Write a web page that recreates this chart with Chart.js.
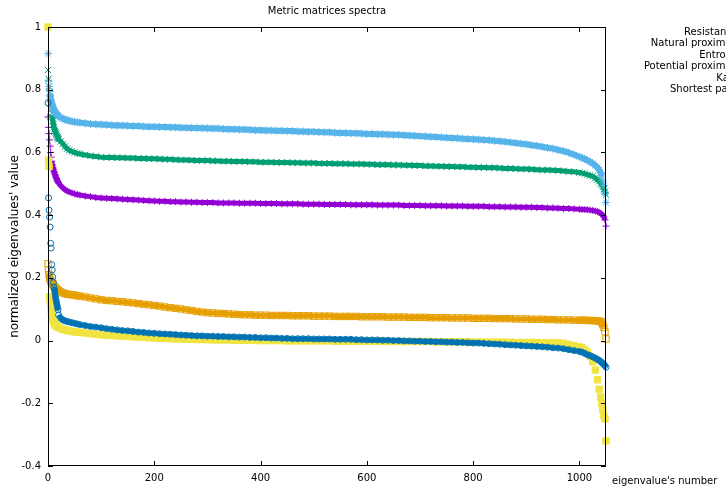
<!DOCTYPE html>
<html>
<head>
<meta charset="utf-8">
<title>Metric matrices spectra</title>
<script src="https://cdn.jsdelivr.net/npm/chart.js@4/dist/chart.umd.min.js"></script>
<style>
  html, body { margin: 0; padding: 0; background: #fff; overflow: hidden; }
  canvas { display: block; }
</style>
</head>
<body>
<canvas id="spectra" width="726" height="491"></canvas>
<script>
// eigenvalue numbers that were sampled (dense at both ends where curves bend)
const idx = [
  0, 1, 2, 3, 4, 5, 6, 7, 8, 9, 10, 11, 12, 13, 14, 15, 16, 17, 18, 19,
  20, 24, 28, 32, 36, 40, 45, 50, 55, 60, 70, 80, 90, 100,
  110, 120, 130, 140, 150, 160, 170, 180, 190, 200,
  210, 220, 230, 240, 250, 260, 270, 280, 290, 300,
  310, 320, 330, 340, 350, 360, 370, 380, 390, 400,
  410, 420, 430, 440, 450, 460, 470, 480, 490, 500,
  510, 520, 530, 540, 550, 560, 570, 580, 590, 600,
  610, 620, 630, 640, 650, 660, 670, 680, 690, 700,
  710, 720, 730, 740, 750, 760, 770, 780, 790, 800,
  810, 820, 830, 840, 850, 860, 870, 880, 890, 900,
  910, 920, 930, 940, 950, 960, 970, 980, 990, 1000,
  1005, 1010, 1015, 1020, 1025, 1030, 1034, 1037, 1040, 1042, 1044, 1046, 1048, 1050
];

const resistance = [
  0.713, 0.68, 0.66, 0.64, 0.62, 0.60, 0.585, 0.572, 0.56, 0.552, 0.546, 0.54, 0.535, 0.53, 0.525, 0.52, 0.516, 0.512, 0.508, 0.505,
  0.502, 0.494, 0.487, 0.481, 0.477, 0.474, 0.471, 0.468, 0.466, 0.464, 0.461, 0.459, 0.456, 0.455,
  0.454, 0.453, 0.452, 0.451, 0.450, 0.449, 0.448, 0.447, 0.446, 0.445,
  0.444, 0.444, 0.443, 0.443, 0.442, 0.442, 0.441, 0.441, 0.440, 0.440,
  0.440, 0.439, 0.439, 0.439, 0.439, 0.438, 0.438, 0.438, 0.438, 0.437,
  0.437, 0.437, 0.437, 0.436, 0.436, 0.436, 0.436, 0.435, 0.435, 0.435,
  0.435, 0.434, 0.434, 0.434, 0.434, 0.434, 0.433, 0.433, 0.433, 0.433,
  0.433, 0.432, 0.432, 0.432, 0.432, 0.432, 0.431, 0.431, 0.431, 0.431,
  0.430, 0.430, 0.430, 0.430, 0.429, 0.429, 0.429, 0.429, 0.428, 0.428,
  0.428, 0.428, 0.427, 0.427, 0.427, 0.426, 0.426, 0.426, 0.425, 0.425,
  0.425, 0.424, 0.424, 0.423, 0.423, 0.422, 0.421, 0.421, 0.420, 0.419,
  0.418, 0.418, 0.417, 0.416, 0.415, 0.413, 0.411, 0.409, 0.406, 0.403, 0.399, 0.394, 0.385, 0.365
];

const naturalProximity = [
  0.863, 0.835, 0.81, 0.79, 0.77, 0.755, 0.74, 0.725, 0.712, 0.70, 0.69, 0.68, 0.673, 0.668, 0.664, 0.66, 0.656, 0.652, 0.648, 0.645,
  0.642, 0.635, 0.627, 0.619, 0.612, 0.607, 0.603, 0.600, 0.597, 0.595, 0.592, 0.589, 0.587, 0.585,
  0.584, 0.584, 0.583, 0.583, 0.582, 0.582, 0.581, 0.581, 0.580, 0.580,
  0.579, 0.578, 0.578, 0.577, 0.576, 0.576, 0.575, 0.574, 0.574, 0.574,
  0.573, 0.573, 0.572, 0.572, 0.571, 0.571, 0.571, 0.570, 0.570, 0.569,
  0.569, 0.569, 0.568, 0.568, 0.568, 0.567, 0.567, 0.566, 0.566, 0.566,
  0.565, 0.565, 0.565, 0.564, 0.564, 0.564, 0.563, 0.563, 0.563, 0.562,
  0.562, 0.561, 0.561, 0.561, 0.560, 0.560, 0.559, 0.559, 0.558, 0.558,
  0.557, 0.557, 0.556, 0.556, 0.555, 0.555, 0.554, 0.554, 0.553, 0.553,
  0.552, 0.552, 0.551, 0.551, 0.550, 0.549, 0.549, 0.548, 0.547, 0.547,
  0.546, 0.545, 0.544, 0.544, 0.543, 0.542, 0.541, 0.539, 0.538, 0.536,
  0.534, 0.532, 0.529, 0.527, 0.524, 0.518, 0.513, 0.508, 0.502, 0.497, 0.49, 0.483, 0.475, 0.465
];

const entropy = [
  0.915, 0.83, 0.81, 0.795, 0.78, 0.77, 0.762, 0.755, 0.749, 0.744, 0.739, 0.735, 0.731, 0.728, 0.726, 0.724, 0.722, 0.72, 0.718, 0.716,
  0.715, 0.711, 0.708, 0.705, 0.703, 0.701, 0.699, 0.697, 0.696, 0.695, 0.693, 0.691, 0.690, 0.689,
  0.688, 0.687, 0.686, 0.686, 0.685, 0.684, 0.684, 0.683, 0.682, 0.682,
  0.681, 0.681, 0.680, 0.680, 0.679, 0.679, 0.678, 0.678, 0.677, 0.677,
  0.676, 0.676, 0.675, 0.674, 0.674, 0.673, 0.673, 0.672, 0.671, 0.671,
  0.670, 0.670, 0.669, 0.669, 0.668, 0.668, 0.667, 0.667, 0.666, 0.666,
  0.665, 0.664, 0.664, 0.663, 0.662, 0.662, 0.661, 0.661, 0.660, 0.659,
  0.659, 0.658, 0.658, 0.657, 0.656, 0.656, 0.655, 0.654, 0.653, 0.652,
  0.651, 0.650, 0.649, 0.648, 0.647, 0.646, 0.645, 0.644, 0.643, 0.642,
  0.641, 0.640, 0.639, 0.637, 0.636, 0.634, 0.632, 0.630, 0.628, 0.626,
  0.623, 0.621, 0.618, 0.615, 0.612, 0.608, 0.604, 0.599, 0.593, 0.586,
  0.583, 0.579, 0.575, 0.570, 0.565, 0.558, 0.552, 0.545, 0.535, 0.525, 0.51, 0.495, 0.47, 0.44
];

const potentialProximity = [
  0.245, 0.225, 0.21, 0.20, 0.195, 0.19, 0.187, 0.185, 0.183, 0.182, 0.178, 0.175, 0.172, 0.17, 0.168, 0.166, 0.164, 0.162, 0.161, 0.16,
  0.159, 0.155, 0.152, 0.150, 0.148, 0.147, 0.146, 0.145, 0.143, 0.142, 0.139, 0.136, 0.133, 0.130,
  0.128, 0.127, 0.125, 0.124, 0.122, 0.120, 0.118, 0.116, 0.114, 0.112,
  0.110, 0.107, 0.105, 0.103, 0.101, 0.098, 0.096, 0.093, 0.091, 0.089,
  0.088, 0.087, 0.086, 0.085, 0.084, 0.083, 0.082, 0.082, 0.081, 0.081,
  0.081, 0.080, 0.080, 0.080, 0.080, 0.079, 0.079, 0.079, 0.079, 0.078,
  0.078, 0.078, 0.078, 0.077, 0.077, 0.077, 0.077, 0.077, 0.076, 0.076,
  0.076, 0.076, 0.076, 0.075, 0.075, 0.075, 0.075, 0.074, 0.074, 0.074,
  0.074, 0.073, 0.073, 0.073, 0.073, 0.072, 0.072, 0.072, 0.072, 0.071,
  0.071, 0.071, 0.071, 0.070, 0.070, 0.070, 0.070, 0.069, 0.069, 0.069,
  0.068, 0.068, 0.068, 0.067, 0.067, 0.066, 0.066, 0.066, 0.065, 0.065,
  0.065, 0.065, 0.064, 0.064, 0.064, 0.063, 0.063, 0.062, 0.061, 0.058, 0.05, 0.042, 0.028, 0.005
];

const katz = [
  1.0, 0.575, 0.555, 0.14, 0.125, 0.11, 0.095, 0.083, 0.075, 0.068, 0.063, 0.058, 0.055, 0.052, 0.05, 0.048, 0.046, 0.045, 0.044, 0.043,
  0.042, 0.039, 0.036, 0.034, 0.032, 0.031, 0.029, 0.028, 0.027, 0.026, 0.024, 0.022, 0.020, 0.018,
  0.017, 0.016, 0.015, 0.014, 0.013, 0.012, 0.011, 0.010, 0.009, 0.008,
  0.007, 0.007, 0.006, 0.005, 0.005, 0.004, 0.004, 0.003, 0.003, 0.003,
  0.002, 0.002, 0.002, 0.002, 0.001, 0.001, 0.001, 0.001, 0.001, 0.000,
  0.000, 0.000, 0.000, 0.000, -0.001, -0.001, -0.001, -0.001, -0.001, -0.001,
  -0.001, -0.001, -0.001, -0.002, -0.002, -0.002, -0.002, -0.002, -0.002, -0.002,
  -0.002, -0.002, -0.003, -0.003, -0.003, -0.003, -0.003, -0.003, -0.003, -0.003,
  -0.003, -0.003, -0.004, -0.004, -0.004, -0.004, -0.004, -0.004, -0.004, -0.005,
  -0.005, -0.005, -0.005, -0.005, -0.005, -0.005, -0.005, -0.006, -0.006, -0.006,
  -0.006, -0.006, -0.007, -0.007, -0.007, -0.007, -0.009, -0.012, -0.016, -0.020,
  -0.023, -0.029, -0.037, -0.050, -0.068, -0.094, -0.125, -0.155, -0.18, -0.20, -0.22, -0.24, -0.25, -0.32
];

const shortestPath = [
  0.758, 0.455, 0.416, 0.394, 0.362, 0.31, 0.295, 0.242, 0.225, 0.203, 0.185, 0.171, 0.162, 0.152, 0.14, 0.13, 0.122, 0.113, 0.105, 0.098,
  0.082, 0.071, 0.066, 0.063, 0.061, 0.059, 0.057, 0.055, 0.053, 0.051, 0.048, 0.045, 0.043, 0.041,
  0.038, 0.036, 0.034, 0.032, 0.031, 0.029, 0.027, 0.026, 0.024, 0.023,
  0.022, 0.021, 0.020, 0.019, 0.018, 0.017, 0.016, 0.015, 0.015, 0.014,
  0.014, 0.013, 0.013, 0.012, 0.012, 0.011, 0.011, 0.010, 0.010, 0.009,
  0.009, 0.008, 0.008, 0.007, 0.007, 0.006, 0.006, 0.006, 0.006, 0.005,
  0.005, 0.005, 0.005, 0.004, 0.004, 0.004, 0.004, 0.003, 0.003, 0.002,
  0.002, 0.002, 0.001, 0.001, 0.000, 0.000, -0.001, -0.001, -0.002, -0.002,
  -0.003, -0.003, -0.004, -0.004, -0.005, -0.005, -0.006, -0.006, -0.007, -0.008,
  -0.008, -0.009, -0.010, -0.011, -0.012, -0.013, -0.014, -0.015, -0.016, -0.017,
  -0.018, -0.019, -0.020, -0.021, -0.023, -0.024, -0.026, -0.029, -0.032, -0.035,
  -0.037, -0.041, -0.045, -0.048, -0.052, -0.056, -0.060, -0.063, -0.067, -0.070, -0.073, -0.076, -0.080, -0.085
];

const seriesNames = ['Resistance', 'Natural proximity', 'Entropy', 'Potential proximity', 'Katz', 'Shortest path'];
const xTicks = [0, 200, 400, 600, 800, 1000];
const yTicks = [-0.4, -0.2, 0, 0.2, 0.4, 0.6, 0.8, 1];

const FONT = 'DejaVu Sans';

// the points sit so close together that they merge into a band; a thick
// stroke fills the band, except across big jumps where points stand alone
function bandGap(c) {
  return Math.abs(c.p1.y - c.p0.y) > 4 ? 'rgba(0,0,0,0)' : undefined;
}

function series(label, values, color, style, radius, filled, band, order) {
  return {
    label: label,
    data: idx.map((n, k) => ({ x: n, y: values[k] })),
    pointStyle: style,
    pointRadius: radius,
    pointBorderWidth: 1,
    pointBorderColor: color,
    pointBackgroundColor: filled ? color : 'rgba(0,0,0,0)',
    borderColor: color,
    borderWidth: band,
    borderJoinStyle: 'round',
    showLine: true,
    tension: 0,
    segment: { borderColor: bandGap },
    clip: false,
    order: order
  };
}

// gnuplot-like frame: closed border, inward ticks on all four sides, labels and key
const frame = {
  id: 'frame',
  afterDraw(chart) {
    const ctx = chart.ctx;
    const a = chart.chartArea;
    const sx = chart.scales.x;
    const sy = chart.scales.y;
    ctx.save();
    ctx.strokeStyle = '#000';
    ctx.lineWidth = 1;
    ctx.beginPath();
    ctx.rect(a.left + 0.5, a.top + 0.5, a.right - a.left - 1, a.bottom - a.top - 1);
    xTicks.forEach(v => {
      const px = Math.round(sx.getPixelForValue(v)) + 0.5;
      ctx.moveTo(px, a.bottom); ctx.lineTo(px, a.bottom - 5);
      ctx.moveTo(px, a.top); ctx.lineTo(px, a.top + 5);
    });
    yTicks.forEach(v => {
      const py = Math.round(sy.getPixelForValue(v)) + 0.5;
      ctx.moveTo(a.left, py); ctx.lineTo(a.left + 5, py);
      ctx.moveTo(a.right, py); ctx.lineTo(a.right - 5, py);
    });
    ctx.stroke();

    ctx.fillStyle = '#000';
    ctx.font = '10px "' + FONT + '"';
    ctx.textBaseline = 'middle';
    ctx.textAlign = 'center';
    ctx.fillText('Metric matrices spectra', (a.left + a.right) / 2, 11);

    ctx.textAlign = 'left';
    ctx.fillText("eigenvalue's number", 612, 481);

    // key sits to the right of the plot, partly past the canvas edge
    ctx.textAlign = 'right';
    seriesNames.forEach((name, k) => {
      ctx.fillText(name, 738, 32.5 + k * 11.4);
    });

    ctx.save();
    ctx.translate(15, (a.top + a.bottom) / 2);
    ctx.rotate(-Math.PI / 2);
    ctx.textAlign = 'center';
    ctx.font = '12px "' + FONT + '"';
    ctx.fillText("normalized eigenvalues' value", 0, 0);
    ctx.restore();
    ctx.restore();
  }
};

new Chart(document.getElementById('spectra'), {
  type: 'scatter',
  data: {
    datasets: [
      series(seriesNames[0], resistance, '#9400d3', 'cross', 3.5, false, 5, 5),
      series(seriesNames[1], naturalProximity, '#009e73', 'crossRot', 4.5, false, 5, 4),
      series(seriesNames[2], entropy, '#56b4e9', 'star', 4, false, 6, 3),
      series(seriesNames[3], potentialProximity, '#e69f00', 'rect', 4.5, false, 5, 2),
      series(seriesNames[4], katz, '#f0e442', 'rect', 4.5, true, 5, 1),
      series(seriesNames[5], shortestPath, '#0072b2', 'circle', 3, false, 5, 0)
    ]
  },
  options: {
    responsive: false,
    animation: false,
    devicePixelRatio: 1,
    events: [],
    layout: { padding: { left: 0, top: 27, right: 120, bottom: 0 } },
    plugins: {
      legend: { display: false },
      tooltip: { enabled: false },
      title: { display: false }
    },
    scales: {
      x: {
        type: 'linear',
        min: 0,
        max: 1050,
        grid: { display: false, drawTicks: false },
        border: { display: false },
        ticks: {
          stepSize: 200,
          includeBounds: false,
          padding: 6,
          color: '#000',
          font: { family: FONT, size: 10 },
          maxRotation: 0,
          callback: v => String(v)
        },
        afterFit(scale) { scale.height = 25; }
      },
      y: {
        type: 'linear',
        min: -0.4,
        max: 1,
        grid: { display: false, drawTicks: false },
        border: { display: false },
        ticks: {
          stepSize: 0.2,
          padding: 7,
          color: '#000',
          font: { family: FONT, size: 10 },
          callback: v => String(Math.round(v * 10) / 10)
        },
        afterFit(scale) { scale.width = 48; }
      }
    }
  },
  plugins: [frame]
});
</script>
</body>
</html>
